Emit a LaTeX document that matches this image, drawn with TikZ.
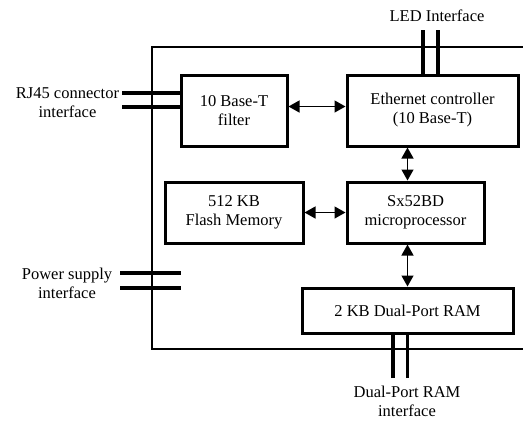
\documentclass[tikz,border=0pt]{standalone}
\usepackage{fontspec}
\setmainfont{Liberation Serif}
\usetikzlibrary{arrows.meta, positioning, calc}

\begin{document}
\begin{tikzpicture}[
  x=1pt, y=-1pt,
  font=\fontsize{16.5}{19}\selectfont,
  block/.style={
    rectangle, draw, line width=3pt,
    align=center, inner sep=0pt
  },
  wire/.style={line width=3.6pt},
  frame/.style={line width=2.6pt},
  link/.style={
    {Triangle[length=11pt,width=12pt]}-{Triangle[length=11pt,width=12pt]},
    line width=1.3pt
  },
  lbl/.style={align=center, inner sep=0pt},
]
  \useasboundingbox (0,0) rectangle (523,421);

  % -------------------------------------------------------
  %  Blocks
  % -------------------------------------------------------
  \node[block, minimum width=106pt, minimum height=71pt] (filt)  at (234, 110.5) {10 Base-T\\filter};
  \node[block, minimum width=171pt, minimum height=71pt] (eth)   at (432.5, 110.5) {Ethernet controller\\(10 Base-T)};
  \node[block, minimum width=138pt, minimum height=61pt] (flash) at (234, 212.5) {512 KB\\Flash Memory};
  \node[block, minimum width=137pt, minimum height=61pt] (cpu)   at (415.5, 212.5) {Sx52BD\\microprocessor};
  \node[block, minimum width=211pt, minimum height=45pt] (ram)   at (407.5, 310.5) {2 KB Dual-Port RAM};

  % -------------------------------------------------------
  %  Module outline (open to the right)
  % -------------------------------------------------------
  \coordinate (tl) at (152, 47);
  \coordinate (bl) at (152, 349);
  \draw[frame] (530, 47) -- (tl) -- (bl) -- (530, 349);

  % -------------------------------------------------------
  %  Internal links
  % -------------------------------------------------------
  \draw[link] ([yshift=4pt]filt.east) -- ([yshift=4pt]filt.east -| eth.west);
  \draw[link] (flash) -- (cpu);
  \draw[link] (cpu.north -| ram) -- (eth.south -| ram);
  \draw[link] (ram.north) -- (ram.north |- cpu.south);

  % -------------------------------------------------------
  %  External interfaces
  % -------------------------------------------------------
  \node[lbl] (rj)  at (67.5, 102.5) {RJ45 connector\\interface};
  \node[lbl] (pwr) at (67, 283.5)   {Power supply\\interface};
  \node[lbl] (led) at (437, 16)     {LED Interface};
  \node[lbl] (dpr) at (407, 401.5)  {Dual-Port RAM\\interface};

  \coordinate (rj1) at (122, 93);
  \coordinate (rj2) at (122, 107);
  \draw[wire] (rj1) -- (rj1 -| filt.west);
  \draw[wire] (rj2) -- (rj2 -| filt.west);

  \coordinate (pw1) at (120, 273);
  \coordinate (pw2) at (120, 288);
  \draw[wire] (pw1) -- ++(61, 0);
  \draw[wire] (pw2) -- ++(61, 0);

  \coordinate (ld1) at (423, 30);
  \coordinate (ld2) at (438, 30);
  \draw[wire] (ld1) -- (ld1 |- eth.north);
  \draw[wire] (ld2) -- (ld2 |- eth.north);

  \coordinate (dp1) at (393, 378);
  \coordinate (dp2) at (407.5, 378);
  \draw[wire] (dp1) -- (dp1 |- ram.south);
  \draw[wire] (dp2) -- (dp2 |- ram.south);

\end{tikzpicture}
\end{document}
